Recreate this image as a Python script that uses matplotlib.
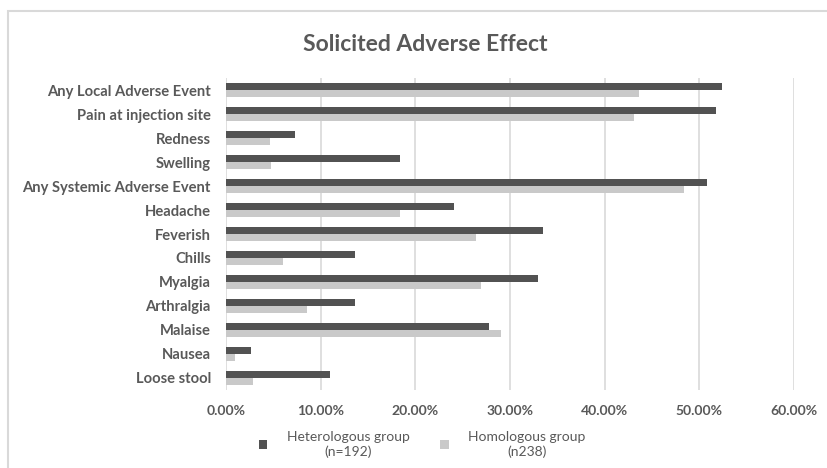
import numpy as np
import matplotlib.pyplot as plt
from matplotlib.patches import Rectangle
from matplotlib.ticker import FuncFormatter

effects = ['Any Local Adverse Event', 'Pain at injection site', 'Redness', 'Swelling',
           'Any Systemic Adverse Event', 'Headache', 'Feverish', 'Chills', 'Myalgia',
           'Arthralgia', 'Malaise', 'Nausea', 'Loose stool']
heterologous = [52.4, 51.8, 7.3, 18.4, 50.8, 24.1, 33.5, 13.6, 32.9, 13.6, 27.8, 2.6, 11.0]
homologous = [43.6, 43.1, 4.6, 4.7, 48.4, 18.4, 26.4, 6.0, 26.9, 8.6, 29.0, 0.9, 2.9]
x_ticks = [0, 10, 20, 30, 40, 50, 60]

text_col = '#595959'
dark_col = '#525252'
light_col = '#c9c9c9'
grid_col = '#d9d9d9'

plt.rcParams['font.family'] = ['Lato', 'DejaVu Sans']

fig = plt.figure(figsize=(8.28, 4.68), dpi=100)
ax = fig.add_axes([0.273, 0.167, 0.686, 0.666])

y = np.arange(len(effects))
h = 0.28
ax.barh(y - h / 2, heterologous, height=h, color=dark_col, label='Heterologous group\n(n=192)', zorder=3)
ax.barh(y + h / 2, homologous, height=h, color=light_col, label='Homologous group\n(n238)', zorder=3)

ax.set_ylim(len(effects) - 0.5, -0.5)
ax.set_yticks(y)
ax.set_yticklabels(effects, fontsize=10.6, fontweight='bold', color=text_col)
ax.set_xlim(0, 60)
ax.set_xticks(x_ticks)
ax.xaxis.set_major_formatter(FuncFormatter(lambda v, p: f'{v:.2f}%'))
for lbl in ax.get_xticklabels():
    lbl.set_fontsize(10)
    lbl.set_fontweight('bold')
    lbl.set_color(text_col)
ax.tick_params(axis='y', length=0, pad=11)
ax.tick_params(axis='x', length=0, pad=11)
ax.grid(axis='x', color=grid_col, lw=1.2, zorder=0)
for s in ax.spines.values():
    s.set_visible(False)

fig.text(0.513, 0.905, 'Solicited Adverse Effect', ha='center', va='center',
         fontsize=16.5, fontweight='bold', color=text_col)

leg = fig.legend(loc='center', bbox_to_anchor=(0.51, 0.05), ncol=2, frameon=False,
                 fontsize=10, handlelength=0.6, handleheight=0.6, columnspacing=2.2,
                 handletextpad=1.4)
for t in leg.get_texts():
    t.set_multialignment('center')
    t.set_color(text_col)

# light outer frame
fig.add_artist(Rectangle((0.0095, -0.05), 1.2, 1.05 - 11 / 468, fill=False,
                         edgecolor=grid_col, lw=1.5, transform=fig.transFigure))

fig.savefig('out.png', dpi=100)
